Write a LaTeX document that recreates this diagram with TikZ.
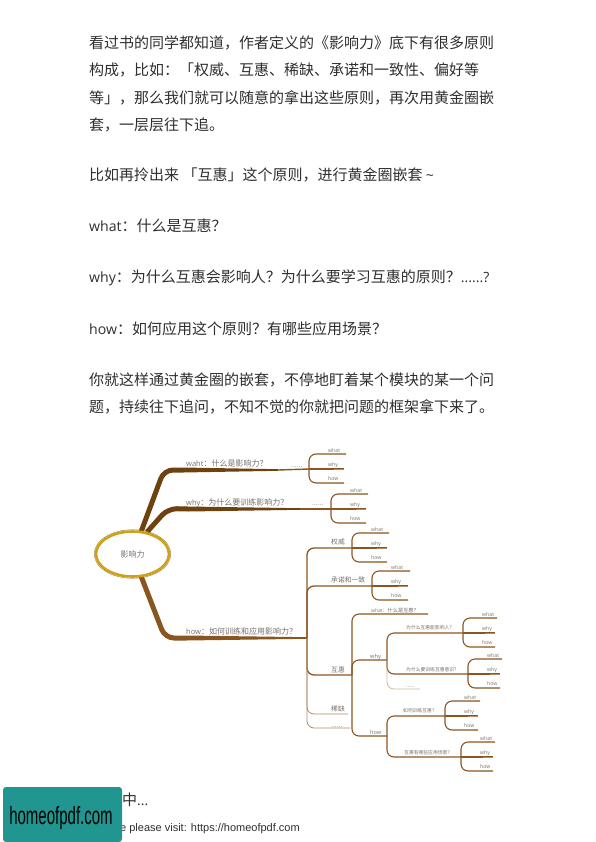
\documentclass[tikz,border=0pt]{standalone}
\usepackage{fontspec}
\usetikzlibrary{shapes.geometric}
\setmainfont{Noto Sans CJK SC}
\newfontfamily\lat[Scale=0.94]{Open Sans}
\newfontfamily\arial{Liberation Sans}
\newcommand{\dou}{\char"FF0C\relax}
\newcommand{\mao}{\char"FF1A\relax}
\newcommand{\wen}{\char"FF1F\relax}
\definecolor{inktext}{HTML}{2E2E2E}
\definecolor{barkdark}{HTML}{6E420F}
\definecolor{barkmid}{HTML}{8A5520}
\definecolor{barklight}{HTML}{B08A60}
\definecolor{barkpale}{HTML}{CDB79E}
\definecolor{leaftext}{HTML}{77706A}
\definecolor{ringgold}{HTML}{D0A018}
\definecolor{ringdark}{HTML}{9A7414}
\definecolor{bannerteal}{HTML}{21958F}
\tikzset{
  para/.style={anchor=base west,inner sep=0pt,text=inktext,font=\fontsize{15}{18}\selectfont},
  lab/.style={anchor=base west,inner sep=0pt,text=leaftext,font=\fontsize{8}{9}\selectfont},
  midlab/.style={anchor=base west,inner sep=0pt,text=leaftext,font=\fontsize{6.8}{8}\selectfont},
  sublab/.style={anchor=base west,inner sep=0pt,text=leaftext,font=\fontsize{5.2}{7}\selectfont},
  qlab/.style={anchor=base west,inner sep=0pt,text=leaftext,font=\fontsize{4.8}{6}\selectfont},
  leaf/.style={anchor=base west,inner sep=0pt,text=leaftext,font=\lat\fontsize{5.5}{6}\selectfont},
  limb/.style={draw=barkmid,line width=1.1pt,rounded corners=7pt},
  tiplimb/.style={draw=barklight,line width=0.9pt},
  palelimb/.style={draw=barkpale,line width=0.8pt,rounded corners=7pt}
}
\begin{document}
\begin{tikzpicture}[x=1pt,y=-1pt]
\useasboundingbox (0,0) rectangle (595,842);
% page text
\node[para] (p1) at (89,48.5) {看过书的同学都知道\dou 作者定义的《影响力》底下有很多原则};
\node[para] (p2) at (89,76) {构成\dou 比如\mao 「权威、互惠、稀缺、承诺和一致性、偏好等};
\node[para] (p3) at (89,103.5) {等」\dou 那么我们就可以随意的拿出这些原则\dou 再次用黄金圈嵌};
\node[para] (p4) at (89,131) {套\dou 一层层往下追。};
\node[para] (p5) at (89,180.5) {比如再拎出来 「互惠」这个原则\dou 进行黄金圈嵌套 {\lat\textasciitilde}};
\node[para] (p6) at (89,231.5) {{\lat what}\mao 什么是互惠\wen};
\node[para] (p7) at (89,282.5) {{\lat why}\mao 为什么互惠会影响人\wen 为什么要学习互惠的原则\wen {\lat ......?}};
\node[para] (p8) at (89,334) {{\lat how}\mao 如何应用这个原则\wen 有哪些应用场景\wen};
\node[para] (p9) at (89,385) {你就这样通过黄金圈的嵌套\dou 不停地盯着某个模块的某一个问};
\node[para] (p10) at (89,412.5) {题\dou 持续往下追问\dou 不知不觉的你就把问题的框架拿下来了。};
% junctions
\coordinate (hubwaht) at (141,532);
\coordinate (hubwhy) at (147,532);
\coordinate (hubhow) at (141,576);
\coordinate (bendwaht) at (164,470);
\coordinate (bendwhy) at (168,508.5);
\coordinate (bendhow) at (165,638);
\coordinate (shoulderwaht) at (183,470);
\coordinate (shoulderwhy) at (188,509);
\coordinate (shoulderhow) at (186,638);
\coordinate (neckwaht) at (278,470);
\coordinate (neckwhy) at (300,509);
\coordinate (spine) at (307,638);
\coordinate (huic) at (352,675);
\coordinate (huiwhy) at (387,660);
\coordinate (huihow) at (387,736);
\coordinate (xishao) at (348,714);
\coordinate (spineend) at (350,728);
\coordinate (huiwhat) at (428,614);
\coordinate (huimore) at (420,689);
% forks: name/vertical x/mid y/end x
\foreach \fname/\fx/\fy/\fend in {fa/309/469/346,fb/331/509/368,fc/352/548/389,fd/372/586/410,
  fe/463/633/497,ff/468/674/502,fg/445/716/480,fh/461/757/495}{
  \coordinate (\fname) at (\fx,\fy);
  \coordinate (\fname t) at (\fend,\fy-15);
  \coordinate (\fname m) at (\fend-2,\fy);
  \coordinate (\fname b) at (\fend-2,\fy+14);
  \draw[limb] (\fname t) -| (\fname) |- (\fname b);
  \draw[limb,rounded corners=0pt] (\fname) -- (\fname m);
  \draw[tiplimb] (\fend-10,\fy-15) -- (\fname t);
  \draw[tiplimb] (\fend-12,\fy) -- (\fname m);
  \draw[tiplimb] (\fend-12,\fy+14) -- (\fname b);
  \node[leaf] (\fname what) at (\fx+19,\fy-17) {what};
  \node[leaf] (\fname why) at (\fx+19,\fy-2.5) {why};
  \node[leaf] (\fname how) at (\fx+19,\fy+11) {how};
}
% main branches
\draw[draw=barkdark,line width=5pt,rounded corners=9pt] (hubwaht) -- (bendwaht) -- (shoulderwaht);
\fill[barkdark] ([yshift=2.5pt]shoulderwaht) -- ([yshift=.8pt]neckwaht) -- ([yshift=-.8pt]neckwaht) -- ([yshift=-2.5pt]shoulderwaht) -- cycle;
\draw[limb,line width=1.4pt] (neckwaht) -- (fa);
\draw[draw=barkdark,line width=5pt,rounded corners=9pt] (hubwhy) -- (bendwhy) -- (shoulderwhy);
\fill[barkdark] ([yshift=2.5pt]shoulderwhy) -- ([yshift=.8pt]neckwhy) -- ([yshift=-.8pt]neckwhy) -- ([yshift=-2.5pt]shoulderwhy) -- cycle;
\draw[limb,line width=1.4pt] (neckwhy) -- (fb);
\draw[draw=barkmid,line width=5pt,rounded corners=9pt] (hubhow) -- (bendhow) -- (shoulderhow);
\fill[barkmid] ([yshift=2.5pt]shoulderhow) -- ([yshift=.8pt]spine) -- ([yshift=-.8pt]spine) -- ([yshift=-2.5pt]shoulderhow) -- cycle;
% how limbs
\draw[limb,line width=1.3pt] (fc) -| (spine);
\draw[limb,line width=1.3pt] (fd) -| (spine);
\draw[limb,line width=1.3pt] (spine) |- (huic);
\draw[palelimb,draw=barklight] (spine) |- (xishao);
\draw[palelimb,draw=barklight] (spine) |- (spineend);
\draw[limb] (huiwhat) -| (huic);
\draw[limb] (huiwhy) -| (huic);
\draw[limb] (huic) |- (huihow);
\draw[limb] (fe) -| (huiwhy);
\draw[limb] (huiwhy) |- (ff);
\draw[palelimb] (huiwhy) |- (huimore);
\draw[limb] (fg) -| (huihow);
\draw[limb] (huihow) |- (fh);
% hub
\node[ellipse,draw=ringgold,line width=2.6pt,fill=white,minimum width=73pt,minimum height=45pt,inner sep=0pt,
  text=leaftext,font=\fontsize{8}{9}\selectfont] (hub) at (132.5,554) {影响力};
\draw[ringdark,line width=0.4pt] (hub.center) ellipse [x radius=38.3,y radius=24.3];
% branch labels
\node[lab] (lwaht) at (186,466) {{\lat waht}\mao 什么是影响力\wen};
\node[lab] (lwhy) at (186,505) {{\lat why}\mao 为什么要训练影响力\wen};
\node[lab] (lhow) at (186,634) {{\lat how}\mao 如何训练和应用影响力\wen};
\node[midlab] (ldota) at (291,467) {......};
\node[midlab] (ldotb) at (312,505) {......};
\node[midlab] (lquan) at (331,544) {权威};
\node[midlab] (lcheng) at (331,582) {承诺和一致};
\node[midlab] (lhui) at (331,672) {互惠};
\node[midlab] (lxi) at (331,711) {稀缺};
\node[midlab] (ldotc) at (331,727) {......};
\node[sublab] (lwhat) at (371,612) {{\lat what}\mao 什么是互惠\wen};
\node[sublab,font=\lat\fontsize{6}{7}\selectfont] (lwy) at (370,658) {why};
\node[sublab,font=\lat\fontsize{6}{7}\selectfont] (lhw) at (370,734) {how};
\node[qlab] (lqa) at (406,629) {为什么互惠能影响人\wen};
\node[qlab] (lqb) at (406,671) {为什么要训练互惠意识\wen};
\node[sublab] (ldotd) at (406,687) {......};
\node[qlab] (lqc) at (403,712) {如何训练互惠\wen};
\node[qlab] (lqd) at (404,754) {互惠有哪些应用场景\wen};
% footer
\node[para] (tail) at (122,805) {中{\lat ...}};
\node[anchor=base west,inner sep=0pt,text=inktext,font=\arial\fontsize{11}{13}\selectfont] (visit) at (120,831) {e please visit: https://homeofpdf.com};
\node[draw=none,fill=bannerteal,rounded corners=3pt,minimum width=119pt,minimum height=55pt,inner sep=0pt] (banner) at (62.5,814.5) {};
\node[inner sep=0pt,text=black,xscale=0.6,font=\arial\fontsize{25}{27}\selectfont] (bannertext) at (61,818) {homeofpdf.com};
\end{tikzpicture}
\end{document}
